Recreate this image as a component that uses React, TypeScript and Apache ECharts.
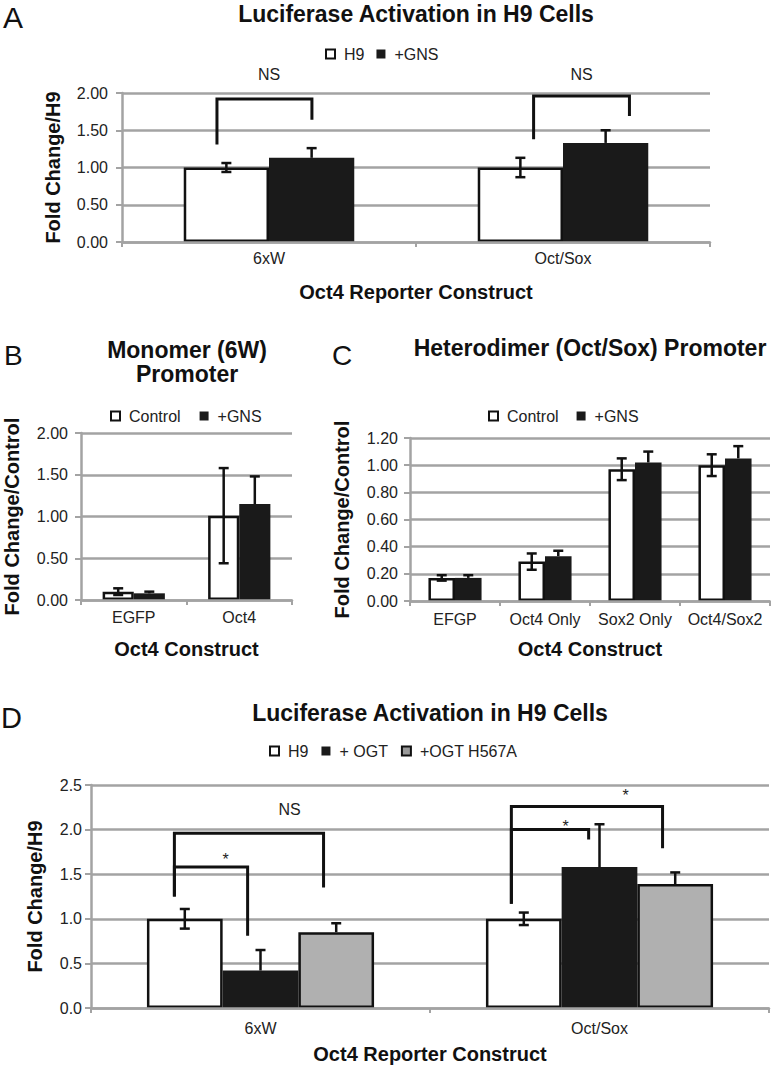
import React, { useEffect, useRef } from 'react';
import * as echarts from 'echarts';

const FONT = "'Liberation Sans', Arial, Helvetica, sans-serif";

// ---------- Panel A ----------
const aCategories = ['6xW', 'Oct/Sox'];
const aH9 = [1.0, 1.0];
const aH9Err = [0.06, 0.13];
const aGNS = [1.13, 1.33];
const aGNSErr = [0.13, 0.17];

// ---------- Panel B ----------
const bCategories = ['EGFP', 'Oct4'];
const bControl = [0.1, 1.01];
const bControlErr = [0.04, 0.57];
const bGNS = [0.08, 1.15];
const bGNSErr = [0.02, 0.33];

// ---------- Panel C ----------
const cCategories = ['EFGP', 'Oct4 Only', 'Sox2 Only', 'Oct4/Sox2'];
const cControl = [0.17, 0.29, 0.97, 1.0];
const cControlErr = [0.02, 0.06, 0.08, 0.08];
const cGNS = [0.17, 0.33, 1.02, 1.05];
const cGNSErr = [0.02, 0.04, 0.08, 0.09];

// ---------- Panel D ----------
const dCategories = ['6xW', 'Oct/Sox'];
const dH9 = [1.0, 1.0];
const dH9Err = [0.11, 0.07];
const dOGT = [0.42, 1.58];
const dOGTErr = [0.23, 0.48];
const dH567A = [0.85, 1.39];
const dH567AErr = [0.1, 0.13];

// significance brackets: category, ends (fraction of category width from its centre), heights (values)
const aBrackets = [
  { cat: 0, x1: -0.177, x2: 0.146, y1: 1.31, top: 1.92, y2: 1.64, label: 'NS', lx: 0.0, ly: 2.25 },
  { cat: 1, x1: -0.1, x2: 0.226, y1: 1.38, top: 1.96, y2: 1.69, label: 'NS', lx: 0.063, ly: 2.25 },
];
const dBrackets = [
  { cat: 0, x1: -0.254, x2: 0.186, y1: 1.25, top: 1.96, y2: 1.35, label: 'NS', lx: 0.086, ly: 2.22 },
  { cat: 0, x1: -0.254, x2: -0.038, y1: 1.25, top: 1.58, y2: 0.81, label: '*', lx: -0.103, ly: 1.67 },
  { cat: 1, x1: -0.26, x2: 0.186, y1: 1.17, top: 2.26, y2: 1.79, label: '*', lx: 0.077, ly: 2.38 },
  { cat: 1, x1: -0.26, x2: -0.032, y1: 1.17, top: 2.0, y2: 1.89, label: '*', lx: -0.1, ly: 2.04 },
];

const GRID_GREY = '#a3a3a3';
const INK = '#111';
const WHITE_STYLE = { color: '#ffffff', borderColor: INK, borderWidth: 2.5 };
const BLACK_STYLE = { color: '#1a1a1a', borderColor: '#1a1a1a', borderWidth: 0 };
const GREY_STYLE = { color: '#b0b0b0', borderColor: INK, borderWidth: 2.5 };

const WHITE_ICON = { color: '#ffffff', borderColor: INK, borderWidth: 2 };
const BLACK_ICON = { color: '#1a1a1a', borderColor: '#1a1a1a', borderWidth: 0 };
const GREY_ICON = { color: '#9a9a9a', borderColor: INK, borderWidth: 2 };

function xAxis(gridIndex: number, data: string[], name: string, labelMargin: number, nameGap: number) {
  return {
    type: 'category',
    gridIndex,
    data,
    z: 4,
    name,
    nameLocation: 'middle',
    nameGap,
    nameTextStyle: { fontFamily: FONT, fontSize: 20, fontWeight: 'bold', color: INK },
    axisLine: { show: true, lineStyle: { color: GRID_GREY, width: 2.5 } },
    axisTick: { show: true, length: 5, lineStyle: { color: GRID_GREY, width: 2 } },
    axisLabel: { interval: 0, margin: labelMargin, fontFamily: FONT, fontSize: 16, color: '#222' },
    splitLine: { show: false },
  };
}

function yAxis(
  gridIndex: number,
  max: number,
  interval: number,
  decimals: number,
  name: string,
  nameGap: number,
  labelMargin: number
) {
  return {
    type: 'value',
    gridIndex,
    min: 0,
    max,
    interval,
    name,
    nameLocation: 'middle',
    nameGap,
    nameTextStyle: { fontFamily: FONT, fontSize: 20, fontWeight: 'bold', color: INK },
    axisLine: { show: true, lineStyle: { color: GRID_GREY, width: 2.5 } },
    axisTick: { show: true, length: 6, lineStyle: { color: GRID_GREY, width: 2 } },
    axisLabel: {
      margin: labelMargin,
      fontFamily: FONT,
      fontSize: 16,
      color: '#222',
      formatter: (v: number) => v.toFixed(decimals),
    },
    splitLine: { show: true, lineStyle: { color: GRID_GREY, width: 2.5 } },
  };
}

function bar(name: string, idx: number, data: number[], style: any, gap: string) {
  return {
    type: 'bar',
    name,
    xAxisIndex: idx,
    yAxisIndex: idx,
    data,
    barGap: '0%',
    barCategoryGap: gap,
    itemStyle: style,
    z: 2,
  };
}

function errorSeries(idx: number, gapFrac: number, groups: { values: number[]; errs: number[]; upperOnly: boolean }[]) {
  const n = groups.length;
  const data: number[][] = [];
  groups.forEach((g, k) => {
    g.values.forEach((v, i) => {
      data.push([i, v, g.errs[i], k, g.upperOnly ? 1 : 0]);
    });
  });
  return {
    type: 'custom',
    xAxisIndex: idx,
    yAxisIndex: idx,
    z: 3,
    silent: true,
    encode: { x: 0, y: 1 },
    data,
    renderItem: (params: any, api: any) => {
      const cat = api.value(0);
      const v = api.value(1);
      const e = api.value(2);
      const k = api.value(3);
      const upOnly = api.value(4) === 1;
      const band = api.size([1, 0])[0];
      const bw = (band * (1 - gapFrac)) / n;
      const c = api.coord([cat, v]);
      const x = c[0] - (bw * n) / 2 + bw * (k + 0.5);
      const yTop = api.coord([cat, v + e])[1];
      const yBot = api.coord([cat, v - e])[1];
      const cap = 5;
      const st = { stroke: INK, lineWidth: 2.5 };
      const children: any[] = [
        { type: 'line', shape: { x1: x, y1: upOnly ? c[1] : yBot, x2: x, y2: yTop }, style: st },
        { type: 'line', shape: { x1: x - cap, y1: yTop, x2: x + cap, y2: yTop }, style: st },
      ];
      if (!upOnly) {
        children.push({ type: 'line', shape: { x1: x - cap, y1: yBot, x2: x + cap, y2: yBot }, style: st });
      }
      return { type: 'group', children };
    },
  };
}

function bracketSeries(idx: number, brackets: any[]) {
  return {
    type: 'custom',
    xAxisIndex: idx,
    yAxisIndex: idx,
    z: 3,
    silent: true,
    clip: false,
    encode: { x: 0, y: 1 },
    data: brackets.map((b) => [b.cat, b.top]),
    renderItem: (params: any, api: any) => {
      const b = brackets[params.dataIndex];
      const band = api.size([1, 0])[0];
      const c0 = api.coord([b.cat, 0]);
      const X = (f: number) => c0[0] + f * band;
      const Y = (v: number) => api.coord([b.cat, v])[1];
      return {
        type: 'group',
        children: [
          {
            type: 'polyline',
            shape: {
              points: [
                [X(b.x1), Y(b.y1)],
                [X(b.x1), Y(b.top)],
                [X(b.x2), Y(b.top)],
                [X(b.x2), Y(b.y2)],
              ],
            },
            style: { stroke: INK, lineWidth: 3, fill: 'none' },
          },
          {
            type: 'text',
            x: X(b.lx),
            y: Y(b.ly),
            style: {
              text: b.label,
              font: `16px ${FONT}`,
              fill: '#222',
              align: 'center',
              verticalAlign: 'middle',
              textAlign: 'center',
              textVerticalAlign: 'middle',
            },
          },
        ],
      };
    },
  };
}

function legend(left: number, top: number, itemGap: number, items: { name: string; itemStyle: any }[]) {
  return {
    left,
    top,
    orient: 'horizontal',
    padding: 0,
    itemGap,
    itemWidth: 9,
    itemHeight: 9,
    icon: 'rect',
    selectedMode: false,
    textStyle: { fontFamily: FONT, fontSize: 16, color: '#222', padding: [0, 0, 0, 4] },
    data: items.map((it) => ({ name: it.name, icon: 'rect', itemStyle: it.itemStyle })),
  };
}

function title(text: string, left: number, top: number, size: number, bold: boolean, align: string, lineHeight?: number) {
  return {
    text,
    left,
    top,
    padding: 0,
    textAlign: align,
    textStyle: {
      fontFamily: FONT,
      fontSize: size,
      fontWeight: bold ? 'bold' : 'normal',
      color: INK,
      lineHeight: lineHeight || size + 2,
    },
  };
}

export default function App() {
  const ref = useRef<HTMLDivElement>(null);
  useEffect(() => {
    if (!ref.current) return;
    const chart = echarts.init(ref.current, undefined, { renderer: 'svg' });
    const option: any = {
      animation: false,
      backgroundColor: '#ffffff',
      title: [
        title('A', 3, 1, 30, false, 'left'),
        title('Luciferase Activation in H9 Cells', 416, 1, 23, true, 'center'),
        title('B', 4, 340, 28, false, 'left'),
        title('Monomer (6W)\nPromoter', 187, 338, 23, true, 'center', 24),
        title('C', 332, 340, 28, false, 'left'),
        title('Heterodimer (Oct/Sox) Promoter', 590, 335, 23, true, 'center'),
        title('D', 1, 702, 29, false, 'left'),
        title('Luciferase Activation in H9 Cells', 430, 700, 23, true, 'center'),
      ],
      legend: [
        legend(325, 46, 12, [
          { name: 'H9', itemStyle: WHITE_ICON },
          { name: '+GNS', itemStyle: BLACK_ICON },
        ]),
        legend(110, 408, 19, [
          { name: 'Control', itemStyle: WHITE_ICON },
          { name: '+GNS', itemStyle: BLACK_ICON },
        ]),
        legend(488, 408, 18, [
          { name: 'Control', itemStyle: WHITE_ICON },
          { name: '+GNS', itemStyle: BLACK_ICON },
        ]),
        legend(269, 743, 13, [
          { name: 'H9', itemStyle: WHITE_ICON },
          { name: '+ OGT', itemStyle: BLACK_ICON },
          { name: '+OGT H567A', itemStyle: GREY_ICON },
        ]),
      ],
      grid: [
        { left: 122, top: 93, width: 588, height: 149 },
        { left: 81, top: 433, width: 211, height: 167 },
        { left: 410, top: 438, width: 360, height: 163 },
        { left: 91, top: 785, width: 678, height: 223 },
      ],
      xAxis: [
        xAxis(0, aCategories, 'Oct4 Reporter Construct', 8, 40),
        xAxis(1, bCategories, 'Oct4 Construct', 9, 39),
        xAxis(2, cCategories, 'Oct4 Construct', 10, 38),
        xAxis(3, dCategories, 'Oct4 Reporter Construct', 12, 36),
      ],
      yAxis: [
        yAxis(0, 2, 0.5, 2, 'Fold Change/H9', 59, 14),
        yAxis(1, 2, 0.5, 2, 'Fold Change/Control', 59, 13),
        yAxis(2, 1.2, 0.2, 2, 'Fold Change/Control', 58, 12),
        yAxis(3, 2.5, 0.5, 1, 'Fold Change/H9', 46, 9),
      ],
      series: [
        bar('H9', 0, aH9, WHITE_STYLE, '42%'),
        bar('+GNS', 0, aGNS, BLACK_STYLE, '42%'),
        errorSeries(0, 0.42, [
          { values: aH9, errs: aH9Err, upperOnly: false },
          { values: aGNS, errs: aGNSErr, upperOnly: true },
        ]),
        bracketSeries(0, aBrackets),

        bar('Control', 1, bControl, WHITE_STYLE, '41%'),
        bar('+GNS', 1, bGNS, BLACK_STYLE, '41%'),
        errorSeries(1, 0.41, [
          { values: bControl, errs: bControlErr, upperOnly: false },
          { values: bGNS, errs: bGNSErr, upperOnly: true },
        ]),

        bar('Control', 2, cControl, WHITE_STYLE, '41%'),
        bar('+GNS', 2, cGNS, BLACK_STYLE, '41%'),
        errorSeries(2, 0.41, [
          { values: cControl, errs: cControlErr, upperOnly: false },
          { values: cGNS, errs: cGNSErr, upperOnly: true },
        ]),

        bar('H9', 3, dH9, WHITE_STYLE, '33%'),
        bar('+ OGT', 3, dOGT, BLACK_STYLE, '33%'),
        bar('+OGT H567A', 3, dH567A, GREY_STYLE, '33%'),
        errorSeries(3, 0.33, [
          { values: dH9, errs: dH9Err, upperOnly: false },
          { values: dOGT, errs: dOGTErr, upperOnly: true },
          { values: dH567A, errs: dH567AErr, upperOnly: true },
        ]),
        bracketSeries(3, dBrackets),
      ],
    };
    chart.setOption(option);
    return () => chart.dispose();
  }, []);
  return (
    <div
      ref={ref}
      style={{ position: 'absolute', left: 0, top: 0, width: 771, height: 1068, background: '#fff' }}
    />
  );
}
